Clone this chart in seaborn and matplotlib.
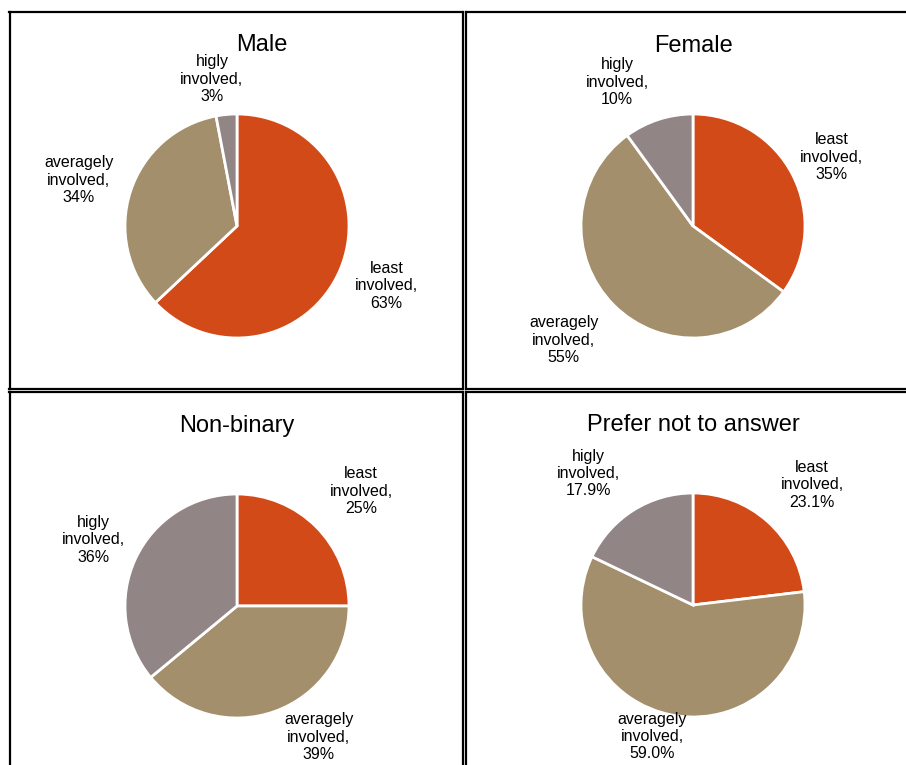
import matplotlib
matplotlib.use("Agg")
import numpy as np
import matplotlib.pyplot as plt
import seaborn as sns

# Survey responses: level of involvement by gender group (percent)
groups = ["Male", "Female", "Non-binary", "Prefer not to answer"]
categories = ["least involved", "averagely involved", "higly involved"]
male = [63, 34, 3]
female = [35, 55, 10]
non_binary = [25, 39, 36]
prefer_not = [23.1, 59.0, 17.9]
decimals = [0, 0, 0, 1]

sns.set_theme(style="white")
plt.rcParams["font.family"] = ["Liberation Sans", "DejaVu Sans"]
palette = sns.color_palette(["#D24A18", "#A38F6B", "#928585"])

W, H = 906, 765
fig = plt.figure(figsize=(W / 100, H / 100), dpi=100)
fig.patch.set_facecolor("white")

# panel boxes (left, top, right, bottom) in pixels, pie centres, pie radius
panels = [(9.5, 11.5, 462.5, 388.5), (465.5, 11.5, 935, 388.5),
          (9.5, 391.5, 462.5, 800), (465.5, 391.5, 935, 800)]
centers = [(237, 226), (693, 226), (237, 606), (693, 605)]
R = 112
# label placement: distance (in radii) and angular nudge (deg) from wedge middle
label_dist = [[1.44, 1.47, 1.33], [1.38, 1.54, 1.45],
              [1.51, 1.38, 1.41], [1.51, 1.23, 1.50]]
label_nudge = [[1.6, 1.8, 4.3], [-0.6, -3.5, 9.8],
               [-2.2, 12.2, 0.4], [-3.2, -7.9, 6.3]]
title_offset = [(0.22, 1.62), (0.0, 1.61), (0.0, 1.61), (0.0, 1.61)]

series = [male, female, non_binary, prefer_not]

for i, (name, vals) in enumerate(zip(groups, series)):
    l, t, r, b = panels[i]
    cx, cy = centers[i]
    ax = fig.add_axes([l / W, 1 - b / H, (r - l) / W, (b - t) / H])
    wedges, _ = ax.pie(vals, colors=palette, startangle=90, counterclock=False,
                       wedgeprops=dict(edgecolor="white", linewidth=2))
    ax.set_aspect("auto")
    ax.set_xlim((l - cx) / R, (r - cx) / R)
    ax.set_ylim((cy - b) / R, (cy - t) / R)
    ax.set_frame_on(True)
    ax.set_xticks([])
    ax.set_yticks([])
    for sp in ax.spines.values():
        sp.set_visible(True)
        sp.set_color("black")
        sp.set_linewidth(1.6)

    for w, cat, v, d, nd in zip(wedges, categories, vals,
                                label_dist[i], label_nudge[i]):
        ang = np.deg2rad((w.theta1 + w.theta2) / 2 + nd)
        first, second = cat.split(" ")
        txt = f"{first}\n{second},\n{v:.{decimals[i]}f}%"
        ax.text(d * np.cos(ang), d * np.sin(ang), txt, ha="center", va="center",
                fontsize=11.5, linespacing=1.2, color="black")

    tx, ty = title_offset[i]
    ax.text(tx, ty, name, ha="center", va="center", fontsize=17, color="black")

fig.savefig("out.png", dpi=100, facecolor="white")
